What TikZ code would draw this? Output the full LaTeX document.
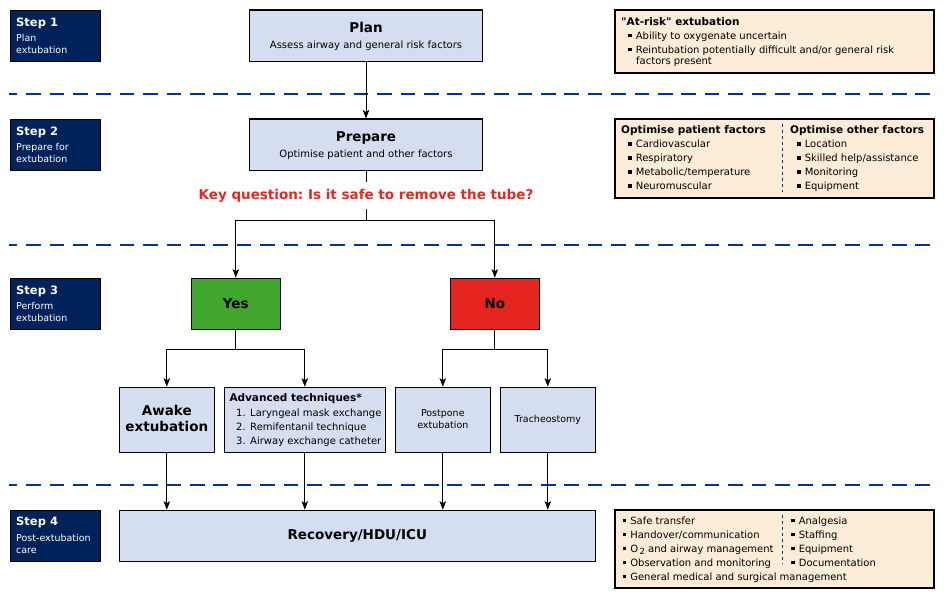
\documentclass[tikz,border=0pt]{standalone}
\usepackage{fontspec}
\setmainfont{DejaVu Sans}
\usetikzlibrary{arrows.meta}
\definecolor{navy}{RGB}{0,34,90}
\definecolor{boxblue}{RGB}{213,222,240}
\definecolor{peach}{RGB}{253,236,216}
\definecolor{yesgreen}{RGB}{65,166,48}
\definecolor{nored}{RGB}{228,36,30}
\definecolor{keyred}{RGB}{228,40,36}
\definecolor{sepblue}{RGB}{0,51,153}
\newcommand\fsz[2]{\fontsize{#1}{#2}\selectfont}
\newcommand\bul{\raisebox{1.7pt}{\rule{3.6pt}{3.6pt}}\hspace{4pt}}
\frenchspacing
\begin{document}
\begin{tikzpicture}[x=1pt,y=-1pt,
 stepbox/.style={draw=black,line width=1pt,fill=navy,minimum width=90pt,minimum height=51pt,inner sep=0},
 steptitle/.style={anchor=base west,inner sep=0,text=white,font=\fsz{11.5}{14}\bfseries},
 steptext/.style={anchor=base west,inner sep=0,text=white,font=\fsz{9.5}{12}},
 flowbox/.style={draw=black,line width=1.2pt,fill=boxblue,inner sep=0},
 infobox/.style={draw=black,line width=1.2pt,fill=peach,inner sep=0},
 ttl/.style={anchor=base,inner sep=0,font=\fsz{13.5}{16}\bfseries},
 sub/.style={anchor=base,inner sep=0,font=\fsz{10}{14}},
 small/.style={anchor=base,inner sep=0,font=\fsz{9.5}{12}},
 txt/.style={anchor=base west,inner sep=0,font=\fsz{10}{14}},
 hdr/.style={anchor=base west,inner sep=0,font=\fsz{10.5}{14}\bfseries},
 conn/.style={line width=0.9pt},
 arr/.style={conn,-{Stealth[length=8.5pt,width=6.5pt,inset=2pt]}},
 sepline/.style={draw=sepblue,line width=2pt,dash pattern=on 14.5pt off 8.9pt,dash phase=6.5pt},
 colsep/.style={draw=sepblue,line width=0.8pt,dash pattern=on 3pt off 3pt},
]
\fill[white] (0,0) rectangle (944,600);
\useasboundingbox (0,0) rectangle (944,600);

% separators
\draw[sepline] (9.3,94) -- (935,94);
\draw[sepline] (9.3,245) -- (935,245);
\draw[sepline] (9.3,484.5) -- (935,484.5);

% step boxes
\node[stepbox] (s1) at (55,35.8) {};
\node[steptitle] (s1t) at (16,26) {Step 1};
\node[steptext] (s1a) at (16,41.7) {Plan};
\node[steptext] (s1b) at (16,53.5) {extubation};

\node[stepbox] (s2) at (55,144.8) {};
\node[steptitle] (s2t) at (16,135) {Step 2};
\node[steptext] (s2a) at (16,150.7) {Prepare for};
\node[steptext] (s2b) at (16,162.5) {extubation};

\node[stepbox] (s3) at (55,303.8) {};
\node[steptitle] (s3t) at (16,294) {Step 3};
\node[steptext] (s3a) at (16,309.7) {Perform};
\node[steptext] (s3b) at (16,321.5) {extubation};

\node[stepbox] (s4) at (55,535.8) {};
\node[steptitle] (s4t) at (16,525.8) {Step 4};
\node[steptext] (s4a) at (16,541.7) {Post-extubation};
\node[steptext] (s4b) at (16,553.3) {care};

% main flow
\node[flowbox,minimum width=233pt,minimum height=51.5pt] (plan) at (366,35.8) {};
\node[ttl] (plant) at (366,32.3) {Plan};
\node[sub] (plans) at (366,48.3) {Assess airway and general risk factors};

\node[flowbox,minimum width=233pt,minimum height=51.5pt] (prep) at (366,144.8) {};
\node[ttl] (prept) at (366,141.7) {Prepare};
\node[sub] (preps) at (366,157.3) {Optimise patient and other factors};

\node[inner sep=0,minimum height=26pt,text=keyred,font=\fsz{13.5}{16}\bfseries] (key) at (366,195.5) {Key question: Is it safe to remove the tube?};
\coordinate (kb) at (366,220);

\node[flowbox,fill=yesgreen,minimum width=89pt,minimum height=51pt,font=\fsz{13.5}{16}\bfseries] (yes) at (235.8,303.8) {Yes};
\node[flowbox,fill=nored,minimum width=89pt,minimum height=51pt,font=\fsz{13.5}{16}\bfseries] (no) at (494.8,303.8) {No};
\coordinate (yb) at (235.8,349);
\coordinate (nb) at (494.8,349);

\node[flowbox,minimum width=95pt,minimum height=65pt] (awake) at (166.8,419.8) {};
\node[ttl] (awake1) at (166.8,415.7) {Awake};
\node[ttl] (awake2) at (166.8,431.7) {extubation};

\node[flowbox,minimum width=161pt,minimum height=65pt] (adv) at (304.8,419.8) {};
\node[hdr] (advh) at (229.3,401) {Advanced techniques*};
\node[txt] (adv1) at (236,416) {1.\hspace{4.5pt}Laryngeal mask exchange};
\node[txt] (adv2) at (236,430) {2.\hspace{4.5pt}Remifentanil technique};
\node[txt] (adv3) at (236,444) {3.\hspace{4.5pt}Airway exchange catheter};

\node[flowbox,minimum width=95pt,minimum height=65pt] (post) at (442.8,419.8) {};
\node[small] (post1) at (442.8,416.7) {Postpone};
\node[small] (post2) at (442.8,428.5) {extubation};

\node[flowbox,minimum width=95pt,minimum height=65pt] (trach) at (547.8,419.8) {};
\node[small] (trach1) at (547.8,422.7) {Tracheostomy};

\node[flowbox,minimum width=476pt,minimum height=51pt] (rec) at (357.3,535.8) {};
\node[ttl] (rect) at (357.3,539.5) {Recovery/HDU/ICU};

% connectors
\draw[arr] (plan) -- (prep);
\draw[conn] (prep) -- (key);
\draw[conn] (key) -- (kb);
\draw[arr] (kb) -| (yes);
\draw[arr] (kb) -| (no);
\draw[conn] (yes) -- (yb);
\draw[arr] (yb) -| (awake);
\draw[arr] (yb) -| (adv);
\draw[conn] (no) -- (nb);
\draw[arr] (nb) -| (post);
\draw[arr] (nb) -| (trach);
\draw[arr] (awake) -- (awake |- rec.north);
\draw[arr] (adv) -- (adv |- rec.north);
\draw[arr] (post) -- (post |- rec.north);
\draw[arr] (trach) -- (trach |- rec.north);

% info box 1
\node[infobox,minimum width=319pt,minimum height=63pt] (info1) at (774.5,41.5) {};
\node[hdr] (i1h) at (621,25) {\textquotedbl At-risk\textquotedbl{} extubation};
\node[txt] (i1a) at (628,39) {\bul Ability to oxygenate uncertain};
\node[txt] (i1b) at (628,53) {\bul Reintubation potentially difficult and/or general risk};
\node[txt] (i1c) at (636,64.5) {factors present};

% info box 2
\node[infobox,minimum width=319pt,minimum height=79pt] (info2) at (774.5,158.5) {};
\draw[colsep] (782,124) -- (782,192);
\node[hdr] (i2h) at (621,133) {Optimise patient factors};
\node[txt] (i2a) at (628,147.5) {\bul Cardiovascular};
\node[txt] (i2b) at (628,161.5) {\bul Respiratory};
\node[txt] (i2c) at (628,175.5) {\bul Metabolic/temperature};
\node[txt] (i2d) at (628,189.5) {\bul Neuromuscular};
\node[hdr] (i2h2) at (790,133) {Optimise other factors};
\node[txt] (i2e) at (797,147.5) {\bul Location};
\node[txt] (i2f) at (797,161.5) {\bul Skilled help/assistance};
\node[txt] (i2g) at (797,175.5) {\bul Monitoring};
\node[txt] (i2h3) at (797,189.5) {\bul Equipment};

% info box 3
\node[infobox,minimum width=319pt,minimum height=78pt] (info3) at (774.5,549) {};
\draw[colsep] (782,515) -- (782,564);
\node[txt] (i3a) at (622.5,524) {\bul Safe transfer};
\node[txt] (i3b) at (622.5,538) {\bul Handover/communication};
\node[txt] (i3c) at (622.5,552) {\bul O\raisebox{-2.5pt}{\fsz{8.5}{10}\,2} and airway management};
\node[txt] (i3d) at (622.5,566) {\bul Observation and monitoring};
\node[txt] (i3e) at (622.5,580) {\bul General medical and surgical management};
\node[txt] (i3f) at (791,524) {\bul Analgesia};
\node[txt] (i3g) at (791,538) {\bul Staffing};
\node[txt] (i3h) at (791,552) {\bul Equipment};
\node[txt] (i3i) at (791,566) {\bul Documentation};
\end{tikzpicture}
\end{document}
